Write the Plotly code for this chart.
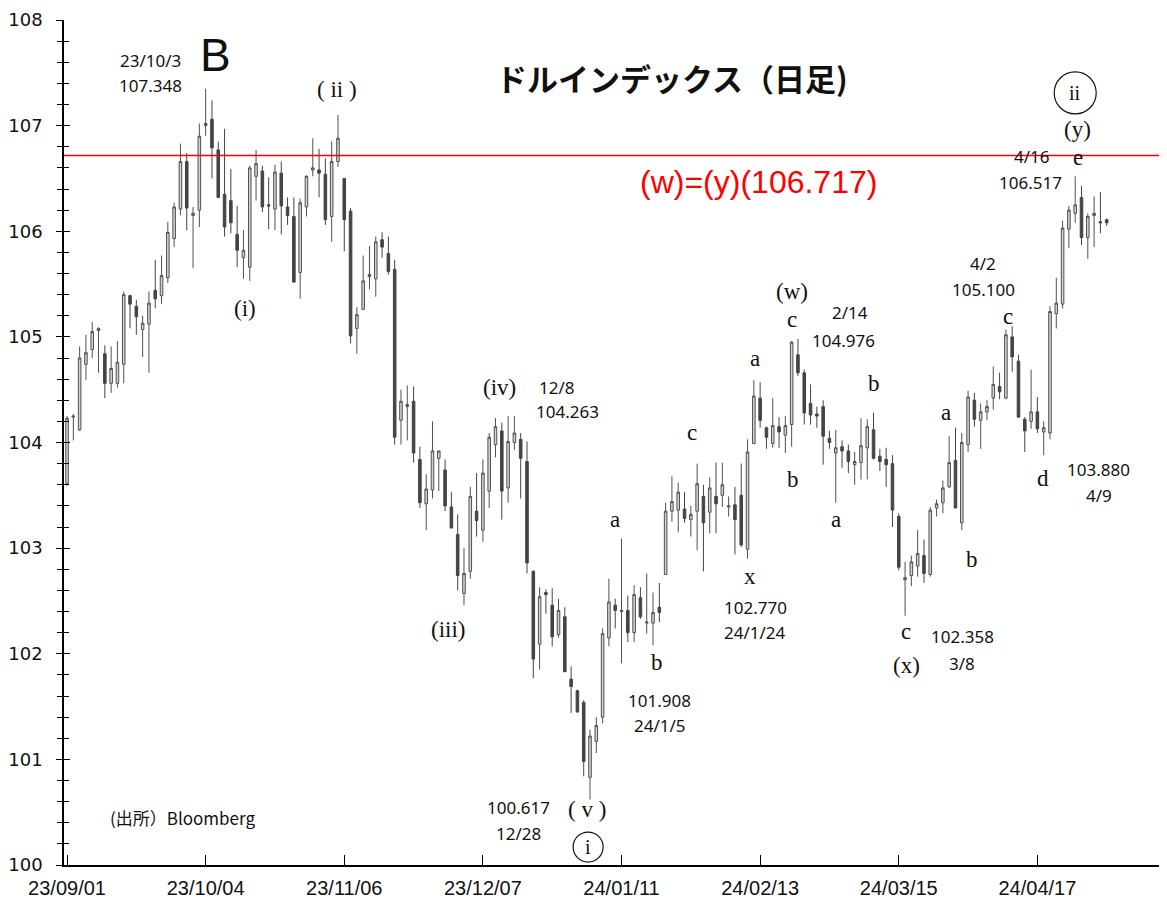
import plotly.graph_objects as go

# ---- data (DXY daily) ----
opens = [103.61,104.24,104.12,104.74,104.88,105.06,104.84,104.56,104.56,104.74,
         105.39,105.29,105.07,105.12,105.44,105.39,105.56,105.93,106.21,106.66,
         106.15,106.20,107.00,107.06,106.77,106.35,106.29,105.97,105.75,105.66,
         106.52,106.57,106.25,106.21,106.55,106.23,106.14,105.61,106.23,106.58,
         106.58,106.54,106.14,106.66,106.50,106.19,105.08,105.26,105.57,105.55,
         105.92,105.79,105.64,104.21,104.34,104.39,103.84,103.42,103.55,103.85,
         103.74,103.39,103.13,102.57,102.78,103.35,103.17,103.54,103.98,104.11,
         103.57,104.00,104.03,103.82,102.78,102.09,102.58,102.46,102.18,102.35,
         101.76,101.65,101.54,100.83,101.17,101.40,102.15,102.46,102.40,102.41,
         102.20,102.53,102.29,102.29,102.44,102.75,103.35,103.36,103.37,103.27,
         103.35,103.49,103.34,103.49,103.50,103.39,103.41,103.50,102.99,103.99,
         104.42,104.14,103.99,104.15,104.07,104.17,104.83,104.66,104.37,104.27,
         104.34,104.04,103.90,103.96,103.92,103.79,103.81,103.95,104.12,103.87,
         103.84,103.80,103.30,102.70,102.74,102.83,102.93,102.75,103.38,103.43,
         103.58,103.83,103.24,103.98,104.40,104.21,104.29,104.42,104.53,104.42,
         105.00,104.77,104.22,104.20,104.29,104.10,104.09,105.22,105.31,106.02,
         106.17,106.32,105.94,106.15,106.09,106.11]
highs = [104.25,104.27,104.91,105.02,105.14,105.09,104.92,104.91,104.96,105.43,
         105.40,105.35,105.20,105.43,105.73,105.77,106.09,106.27,106.83,106.74,
         106.23,107.02,107.35,107.24,106.85,106.97,106.59,106.24,106.01,106.62,
         106.77,106.62,106.51,106.63,106.66,106.32,106.32,106.31,106.53,106.88,
         106.78,106.69,106.85,107.10,106.50,106.22,105.28,105.77,105.86,105.95,
         105.99,105.95,105.73,104.50,104.54,104.53,103.96,103.70,104.20,103.92,
         103.84,103.53,103.32,103.00,103.58,103.71,103.84,104.09,104.23,104.19,
         104.25,104.25,104.09,104.01,102.79,102.63,102.61,102.62,102.52,102.44,
         101.88,101.66,101.56,101.28,101.40,102.24,102.71,102.52,103.09,102.55,
         102.65,102.63,102.76,102.58,102.67,103.43,103.68,103.62,103.53,103.40,
         103.80,103.60,103.67,103.81,103.81,103.49,103.58,103.80,104.03,104.59,
         104.57,104.15,104.42,104.24,104.25,104.96,104.98,104.69,104.55,104.34,
         104.40,104.11,104.12,104.02,103.98,103.91,104.23,104.22,104.28,103.94,
         103.95,103.88,103.33,102.87,102.93,103.17,103.08,103.39,103.46,103.64,
         104.06,104.14,104.09,104.49,104.47,104.37,104.40,104.72,104.66,105.07,
         105.10,104.83,104.24,104.69,104.43,104.20,105.29,105.56,106.10,106.24,
         106.52,106.43,106.17,106.33,106.37,106.12]
lows = [103.59,104.02,104.11,104.59,104.80,104.66,104.42,104.47,104.52,104.56,
        105.08,105.02,104.81,104.66,105.27,105.31,105.51,105.85,106.15,106.01,
        105.65,106.04,106.90,106.50,106.32,105.95,105.98,105.66,105.55,105.53,
        106.29,106.18,106.02,106.01,105.97,106.06,105.51,105.36,106.14,106.52,
        106.32,106.06,105.90,106.61,105.81,104.94,104.84,105.26,105.45,105.38,
        105.75,105.59,103.98,103.98,104.02,103.81,103.38,103.17,103.47,103.54,
        103.35,103.19,102.60,102.46,102.71,103.11,103.06,103.38,103.86,103.27,
        103.43,103.93,103.47,102.76,101.77,101.85,102.38,102.07,102.15,101.83,
        101.44,101.44,100.84,100.62,101.06,101.34,102.07,102.24,101.91,102.11,
        102.11,102.33,102.19,102.08,102.30,102.75,103.25,103.15,103.24,103.11,
        102.98,102.78,103.14,103.14,103.39,103.30,102.94,103.01,102.90,103.99,
        104.14,103.94,103.95,103.95,103.90,103.96,104.63,104.17,104.17,104.14,
        103.79,103.94,103.43,103.76,103.71,103.60,103.65,103.65,103.84,103.73,
        103.58,103.20,102.79,102.36,102.64,102.73,102.67,102.73,103.30,103.33,
        103.57,103.38,103.17,103.91,104.15,103.94,104.21,104.31,104.41,104.41,
        104.67,104.24,103.91,104.13,104.09,103.88,104.03,105.08,105.27,105.84,
        106.08,105.87,105.74,105.85,105.98,106.05]
closes = [104.23,104.25,104.80,104.85,105.05,105.08,104.56,104.70,104.76,105.40,
          105.31,105.19,105.13,105.32,105.36,105.58,105.99,106.23,106.66,106.22,
          106.17,106.90,107.02,106.79,106.32,106.04,106.08,105.82,105.82,106.60,
          106.64,106.23,106.24,106.56,106.24,106.15,105.52,106.27,106.52,106.60,
          106.55,106.11,106.66,106.88,106.11,105.01,105.21,105.53,105.59,105.90,
          105.85,105.62,104.05,104.39,104.36,103.90,103.43,103.56,103.92,103.92,
          103.40,103.19,102.74,102.76,103.49,103.26,103.71,104.05,104.15,103.54,
          104.01,104.09,103.85,102.86,101.95,102.54,102.56,102.16,102.41,101.83,
          101.69,101.45,100.98,101.22,101.32,102.19,102.49,102.41,102.41,102.20,
          102.56,102.35,102.30,102.39,102.39,103.35,103.44,103.53,103.28,103.32,
          103.61,103.24,103.57,103.42,103.60,103.40,103.27,103.03,103.91,104.44,
          104.21,104.05,104.16,104.10,104.16,104.95,104.66,104.28,104.26,104.25,
          104.06,104.00,103.95,103.92,103.82,103.82,103.97,104.15,103.85,103.82,
          103.79,103.36,102.82,102.72,102.87,102.95,102.76,103.36,103.42,103.57,
          103.81,103.38,104.00,104.43,104.22,104.29,104.34,104.55,104.48,105.02,
          104.81,104.24,104.11,104.29,104.13,104.14,105.24,105.32,106.03,106.20,
          106.25,105.94,106.14,106.17,106.08,106.08]
days = list(range(len(opens)))

tick_pos = [0, 22, 44, 66, 88, 110, 132, 154]
tick_labels = ["23/09/01", "23/10/04", "23/11/06", "23/12/07",
               "24/01/11", "24/02/13", "24/03/15", "24/04/17"]

target_level = 106.717
title_text = "ドルインデックス（日足)"
target_text = "(w)=(y)(106.717)"

# (x index, y value, text)
sans_labels = [
    (13.2, 107.62, "23/10/3"), (13.2, 107.38, "107.348"),
    (77.8, 104.52, "12/8"), (79.4, 104.29, "104.263"),
    (94.1, 101.56, "101.908"), (94.1, 101.32, "24/1/5"),
    (109.2, 102.44, "102.770"), (109.2, 102.20, "24/1/24"),
    (124.3, 105.23, "2/14"), (123.2, 104.97, "104.976"),
    (142.1, 102.16, "102.358"), (142.1, 101.91, "3/8"),
    (145.4, 105.69, "4/2"), (145.4, 105.45, "105.100"),
    (163.7, 103.74, "103.880"), (163.7, 103.50, "4/9"),
    (153.2, 106.71, "4/16"), (152.9, 106.46, "106.517"),
    (71.6, 100.54, "100.617"), (71.6, 100.30, "12/28"),
]
wave_labels = [
    (42.9, 107.34, "( ii )"), (28.3, 105.27, "(i)"), (60.5, 102.23, "(iii)"),
    (68.7, 104.52, "(iv)"), (82.5, 100.53, "( v )"),
    (87.0, 103.27, "a"), (99.2, 104.09, "c"), (93.7, 101.92, "b"),
    (108.4, 102.73, "x"), (109.2, 104.80, "a"), (115.1, 105.43, "(w)"),
    (115.1, 105.16, "c"), (115.2, 103.65, "b"), (122.1, 103.27, "a"),
    (128.1, 104.56, "b"), (139.5, 104.28, "a"), (143.7, 102.89, "b"),
    (133.2, 102.21, "c"), (133.3, 101.89, "(x)"), (149.4, 105.19, "c"),
    (154.9, 103.66, "d"), (160.3, 106.96, "(y)"), (160.5, 106.70, "e"),
]
circled = [(160.0, 107.31, "ii", 21), (82.7, 100.17, "i", 15)]

fig = go.Figure()
fig.add_trace(go.Candlestick(
    x=days, open=opens, high=highs, low=lows, close=closes,
    increasing=dict(fillcolor="#d2d2d2", line=dict(color="#505050", width=1)),
    decreasing=dict(fillcolor="#444444", line=dict(color="#444444", width=1)),
    whiskerwidth=0, showlegend=False, hoverinfo="skip"))
# helper trace for the second (inside-tick) y axis
fig.add_trace(go.Scatter(x=[], y=[], yaxis="y2", showlegend=False))

fig.add_shape(type="line", xref="paper", x0=0, x1=1, yref="y",
              y0=target_level, y1=target_level, line=dict(color="#ff0000", width=1.5))

for x, y, t in sans_labels:
    fig.add_annotation(x=x, y=y, text=t, showarrow=False,
                       font=dict(family="Noto Sans", size=17, color="#111111"))
for x, y, t in wave_labels:
    fig.add_annotation(x=x, y=y, text=t, showarrow=False,
                       font=dict(family="Liberation Serif", size=23, color="#111111"))
for x, y, t, r in circled:
    fig.add_shape(type="circle", xref="x", yref="y", xsizemode="pixel", ysizemode="pixel",
                  xanchor=x, yanchor=y, x0=-r, x1=r, y0=-r, y1=r,
                  line=dict(color="#111111", width=1.2))
    fig.add_annotation(x=x, y=y, text=t, showarrow=False,
                       font=dict(family="Liberation Serif", size=20, color="#111111"))

fig.add_annotation(x=23.5, y=107.67, text="B", showarrow=False,
                   font=dict(family="Liberation Sans", size=46, color="#111111"))
fig.add_annotation(x=96.0, y=107.46, text=title_text, showarrow=False,
                   font=dict(family="Noto Sans CJK JP", size=31, color="#111111",
                             weight="bold"))
fig.add_annotation(x=109.8, y=106.47, text=target_text, showarrow=False,
                   font=dict(family="Liberation Sans", size=32, color="#ff0000"))
fig.add_annotation(x=18.4, y=100.45, text="(出所）Bloomberg", showarrow=False,
                   font=dict(family="Noto Sans CJK JP", size=17, color="#111111"))

fig.update_layout(
    width=1151, height=891,
    margin=dict(l=56, r=0, t=12, b=34),
    paper_bgcolor="white", plot_bgcolor="white",
    boxgap=0.42,
    xaxis=dict(range=[-0.48, 173.3], tickvals=tick_pos, ticktext=tick_labels,
               automargin=False,
               showgrid=False, zeroline=False, showline=True, linecolor="black",
               linewidth=1.5, ticks="inside", ticklen=10, tickcolor="black",
               ticklabelstandoff=4,
               rangeslider=dict(visible=False),
               tickfont=dict(family="Liberation Sans", size=20, color="#111111")),
    yaxis=dict(range=[100, 108], dtick=1, showgrid=False, zeroline=False,
               automargin=False,
               showline=True, linecolor="black", linewidth=1.5,
               ticks="outside", ticklen=6, tickcolor="black", ticklabelstandoff=10,
               minor=dict(dtick=0.2, ticks="outside", ticklen=5, tickcolor="black"),
               tickfont=dict(family="DejaVu Sans", size=18, color="#111111")),
    yaxis2=dict(range=[100, 108], overlaying="y", anchor="x", side="left",
                automargin=False,
                dtick=1, showgrid=False, zeroline=False, showline=False,
                showticklabels=False, ticks="inside", ticklen=6, tickcolor="black",
                minor=dict(dtick=0.2, ticks="inside", ticklen=5, tickcolor="black")),
)

fig.write_html("out.html")
